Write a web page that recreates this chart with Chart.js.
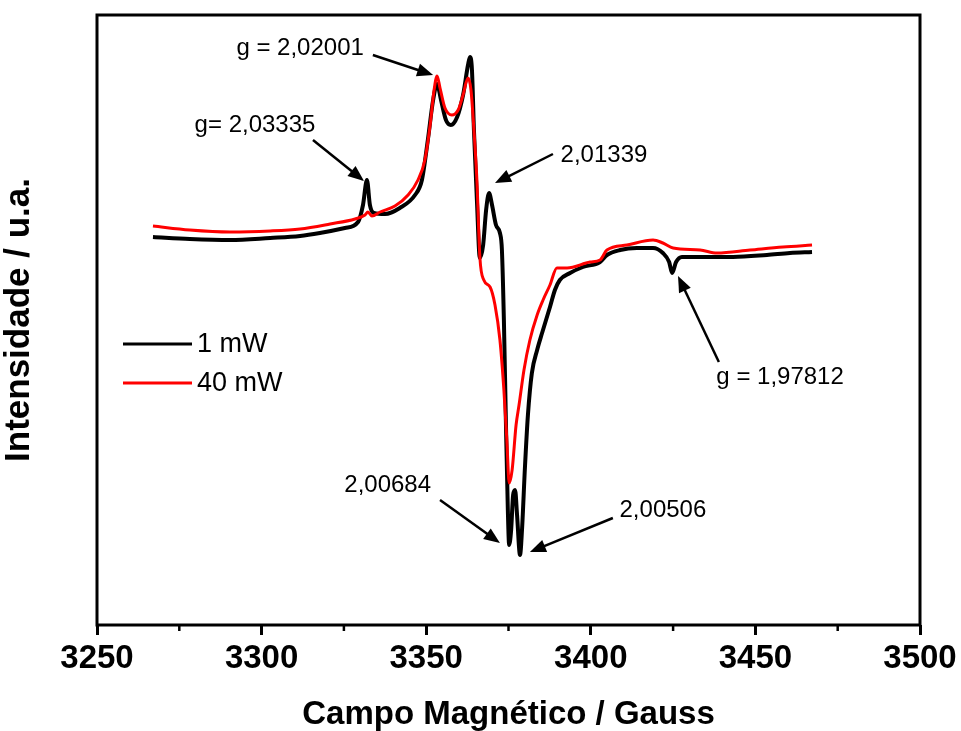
<!DOCTYPE html>
<html>
<head>
<meta charset="utf-8">
<title>Espectro EPR - 1 mW e 40 mW</title>
<script src="https://cdn.jsdelivr.net/npm/chart.js"></script>
<style>
  html, body { margin: 0; padding: 0; background: #fff; }
</style>
</head>
<body>
<canvas id="eprChart" width="961" height="731"></canvas>
<script>
// 1 mW (preto)
var campo1 = [3267.0, 3278.2, 3290.4, 3302.6, 3311.7, 3317.7, 3325.3, 3329.3, 3330.8, 3332.0,
  3332.9, 3334.1, 3337.5, 3342.0, 3346.6, 3348.7, 3350.5, 3352.1, 3353.3, 3354.5,
  3356.0, 3357.5, 3359.4, 3361.2, 3362.7, 3363.3, 3363.9, 3364.5, 3365.4, 3366.3,
  3367.3, 3368.2, 3369.1, 3370.0, 3371.2, 3372.4, 3373.0, 3373.6, 3374.2, 3374.8,
  3375.2, 3375.8, 3376.4, 3377.0, 3377.6, 3378.5, 3379.1, 3380.0, 3380.9, 3382.1,
  3383.7, 3385.2, 3387.6, 3389.1, 3390.6, 3393.7, 3397.6, 3402.8, 3404.9, 3408.9,
  3414.0, 3418.9, 3421.9, 3423.8, 3424.7, 3425.9, 3427.7, 3433.2, 3443.2, 3453.5,
  3460.5, 3467.2];
var sinal1 = [388, 386, 385, 387, 389, 392, 397, 403, 420, 445,
  420, 412, 411, 417, 430, 445, 485, 525, 541, 525,
  505, 500, 508, 530, 560, 568, 555, 495, 425, 367,
  380, 415, 432, 420, 400, 392, 375, 305, 205, 115,
  80, 95, 130, 135, 110, 70, 95, 158, 210, 252,
  275, 292, 318, 335, 345, 352, 358, 363, 370, 375,
  377, 377, 372, 363, 352, 363, 368, 368, 368, 370,
  372, 373];

// 40 mW (vermelho)
var campo40 = [3267.0, 3278.2, 3290.4, 3302.6, 3311.7, 3320.8, 3328.4, 3331.4, 3332.3, 3333.5,
  3336.0, 3340.5, 3344.5, 3347.5, 3349.6, 3351.2, 3352.4, 3353.3, 3354.2, 3355.7,
  3357.8, 3359.7, 3361.2, 3362.7, 3363.6, 3364.5, 3365.4, 3366.3, 3367.5, 3369.4,
  3370.9, 3372.4, 3373.6, 3374.5, 3375.2, 3376.1, 3377.3, 3378.2, 3379.7, 3381.5,
  3383.7, 3385.5, 3387.6, 3389.7, 3392.8, 3399.8, 3402.8, 3404.9, 3411.0, 3418.9,
  3421.9, 3425.0, 3433.2, 3438.3, 3448.4, 3458.4, 3467.2];
var sinal40 = [399, 395, 393, 394, 396, 401, 406, 410, 413, 409,
  413, 419, 430, 445, 465, 500, 535, 549, 537, 517,
  510, 515, 530, 547, 535, 495, 445, 368, 345, 338,
  320, 285, 235, 185, 142, 155, 200, 220, 255, 285,
  310, 325, 340, 357, 357, 363, 365, 375, 380, 385,
  382, 377, 375, 372, 375, 378, 380];

var ticksMenores = [3275, 3325, 3375, 3425, 3475];

// anotacoes (valores g) em coordenadas de dados
var anotTextos = ['g = 2,02001', 'g= 2,03335', '2,01339', 'g = 1,97812', '2,00684', '2,00506'];
var anotTextoX = [3311.7, 3298.0, 3404.0, 3457.5, 3338.3, 3421.9];
var anotTextoY = [577, 500, 470, 248, 140, 115];
var setaIniX = [3333.8, 3315.6, 3388.5, 3438.9, 3354.2, 3406.7];
var setaIniY = [570, 485, 471, 263, 125, 107];
var setaFimX = [3352.1, 3331.1, 3370.9, 3426.5, 3372.4, 3381.5];
var setaFimY = [550, 444, 442, 349, 82, 73];

function pontos(xs, ys) {
  return xs.map(function(v, i) { return {x: v, y: ys[i]}; });
}

var fonte = "'Liberation Sans', Arial, sans-serif";

var extras = {
  id: 'extras',
  beforeDraw: function(chart) {
    var ctx = chart.ctx;
    ctx.save();
    ctx.fillStyle = '#fff';
    ctx.fillRect(0, 0, chart.width, chart.height);
    ctx.restore();
  },
  afterDraw: function(chart) {
    var ctx = chart.ctx, a = chart.chartArea;
    var sx = chart.scales.x, sy = chart.scales.y;
    ctx.save();
    ctx.strokeStyle = '#000';
    ctx.fillStyle = '#000';

    // ticks menores
    ctx.lineWidth = 2.5;
    ticksMenores.forEach(function(v) {
      var px = sx.getPixelForValue(v);
      ctx.beginPath();
      ctx.moveTo(px, a.bottom);
      ctx.lineTo(px, a.bottom + 6);
      ctx.stroke();
    });

    // moldura
    ctx.lineWidth = 3;
    ctx.strokeRect(a.left, a.top, a.right - a.left, a.bottom - a.top);

    // setas + textos
    ctx.font = '24px ' + fonte;
    ctx.textAlign = 'center';
    ctx.textBaseline = 'middle';
    for (var i = 0; i < anotTextos.length; i++) {
      ctx.fillText(anotTextos[i], sx.getPixelForValue(anotTextoX[i]), sy.getPixelForValue(anotTextoY[i]));
      var x0 = sx.getPixelForValue(setaIniX[i]), y0 = sy.getPixelForValue(setaIniY[i]);
      var x1 = sx.getPixelForValue(setaFimX[i]), y1 = sy.getPixelForValue(setaFimY[i]);
      var ang = Math.atan2(y1 - y0, x1 - x0);
      var L = 16, W = 6.5;
      ctx.lineWidth = 2.5;
      ctx.beginPath();
      ctx.moveTo(x0, y0);
      ctx.lineTo(x1 - Math.cos(ang) * L * 0.8, y1 - Math.sin(ang) * L * 0.8);
      ctx.stroke();
      ctx.beginPath();
      ctx.moveTo(x1, y1);
      ctx.lineTo(x1 - Math.cos(ang) * L - Math.sin(ang) * W, y1 - Math.sin(ang) * L + Math.cos(ang) * W);
      ctx.lineTo(x1 - Math.cos(ang) * L + Math.sin(ang) * W, y1 - Math.sin(ang) * L - Math.cos(ang) * W);
      ctx.closePath();
      ctx.fill();
    }

    // legenda dentro do grafico
    ctx.font = '27px ' + fonte;
    ctx.textAlign = 'left';
    [0, 1].forEach(function(k, j) {
      var ds = chart.data.datasets[k];
      var ly = 344 + j * 39;
      ctx.strokeStyle = ds.borderColor;
      ctx.lineWidth = 3;
      ctx.beginPath();
      ctx.moveTo(123, ly);
      ctx.lineTo(192, ly);
      ctx.stroke();
      ctx.fillStyle = '#000';
      ctx.fillText(ds.label, 197, ly + 1);
    });
    ctx.restore();
  }
};

var ctx = document.getElementById('eprChart').getContext('2d');
var grafico = new Chart(ctx, {
  type: 'line',
  data: {
    datasets: [
      {
        label: '1 mW',
        data: pontos(campo1, sinal1),
        borderColor: '#000000',
        borderWidth: 4,
        pointRadius: 0,
        cubicInterpolationMode: 'monotone',
        order: 1
      },
      {
        label: '40 mW',
        data: pontos(campo40, sinal40),
        borderColor: '#ff0000',
        borderWidth: 3,
        pointRadius: 0,
        cubicInterpolationMode: 'monotone',
        order: 0
      }
    ]
  },
  options: {
    responsive: false,
    animation: false,
    layout: { padding: { top: 15, right: 41, left: 0, bottom: 0 } },
    plugins: {
      legend: { display: false },
      tooltip: { enabled: false }
    },
    scales: {
      x: {
        type: 'linear',
        min: 3250,
        max: 3500,
        afterFit: function(s) { s.height = 106; },
        ticks: {
          stepSize: 50,
          color: '#000',
          padding: 4,
          maxRotation: 0,
          font: { family: fonte, size: 33, weight: 'bold' },
          callback: function(v) { return v; }
        },
        grid: {
          drawOnChartArea: false,
          drawTicks: true,
          tickLength: 10,
          tickWidth: 3,
          tickColor: '#000'
        },
        border: { display: false },
        title: {
          display: true,
          text: 'Campo Magnético / Gauss',
          color: '#000',
          padding: 0,
          font: { family: fonte, size: 33, weight: 'bold', lineHeight: 1.0 }
        }
      },
      y: {
        min: 0,
        max: 610,
        afterFit: function(s) { s.width = 97; },
        ticks: { display: false },
        grid: { display: false },
        border: { display: false },
        title: {
          display: true,
          text: 'Intensidade / u.a.',
          color: '#000',
          padding: 0,
          font: { family: fonte, size: 35, weight: 'bold', lineHeight: 1.1 }
        }
      }
    }
  },
  plugins: [extras]
});
</script>
</body>
</html>
